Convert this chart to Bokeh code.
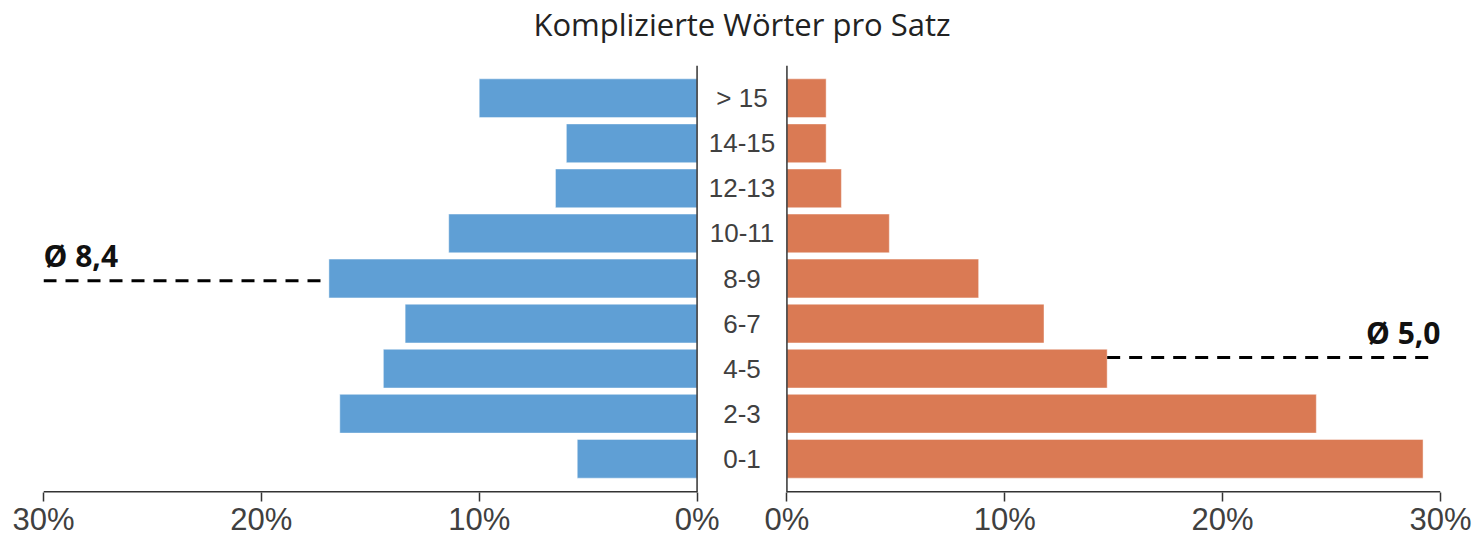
from bokeh.plotting import figure
from bokeh.models import LinearAxis, FixedTicker, Range1d, Span, ColumnDataSource, Title
from bokeh.core.properties import value
from bokeh.embed import file_html
from bokeh.resources import INLINE

# ---- data ----
categories = ["0-1", "2-3", "4-5", "6-7", "8-9", "10-11", "12-13", "14-15", "> 15"]
left_values = [5.5, 16.4, 14.4, 13.4, 16.9, 11.4, 6.5, 6.0, 10.0]     # % (blue, left)
right_values = [29.2, 24.3, 14.7, 11.8, 8.8, 4.7, 2.5, 1.8, 1.8]     # % (orange, right)
left_avg = 8.4
right_avg = 5.0
left_avg_label = "Ø 8,4"
right_avg_label = "Ø 5,0"
tick_values = [0, 10, 20, 30]
tick_labels = ["0%", "10%", "20%", "30%"]
title_text = "Komplizierte Wörter pro Satz"

# ---- layout constants ----
G = 4.125        # gap between panels (in % units)
XMAX = 30
LABEL_DY = 0.55  # avg label above its line (category units)
YMIN, YMAX = -0.748, 8.726

BLUE = "#5f9fd5"
ORANGE = "#da7a54"
TXT = "#404040"

ypos = list(range(len(categories)))

p = figure(width=1474, height=539, output_backend="svg", toolbar_location=None,
           x_range=Range1d(-XMAX, G + XMAX), y_range=Range1d(YMIN, YMAX),
           x_axis_location=None, y_axis_location=None,
           min_border_left=43, min_border_right=34, min_border_top=65, min_border_bottom=10)
p.outline_line_color = None
p.xgrid.visible = False
p.ygrid.visible = False
p.background_fill_color = "white"
p.border_fill_color = "white"

# spacer between title and plot frame, then the real title (further out)
spacer = Title(text=" ", text_font_size="1px", standoff=16)
p.add_layout(spacer, "above")
title = Title(text=title_text, align="center", vertical_align="top", standoff=0,
              text_font="Open Sans", text_font_size="31px", text_font_style="normal",
              text_color="#222222")
p.add_layout(title, "above")

src = ColumnDataSource(dict(
    y=ypos,
    lleft=[-v for v in left_values],
    lright=[0] * len(ypos),
    rleft=[G] * len(ypos),
    rright=[G + v for v in right_values],
    cat=categories,
    cx=[G / 2] * len(ypos),
))

p.hbar(y="y", left="lleft", right="lright", height=0.86, source=src,
       fill_color=BLUE, line_color="white", line_alpha=0.45, line_width=1)
p.hbar(y="y", left="rleft", right="rright", height=0.86, source=src,
       fill_color=ORANGE, line_color="white", line_alpha=0.45, line_width=1)

# category labels in the middle
p.text(x="cx", y="y", text="cat", source=src, text_align="center", text_baseline="middle",
       text_font=value("Liberation Sans"), text_font_size="26px", text_color=TXT)

# vertical panel lines
for loc in (0, G):
    p.add_layout(Span(location=loc, dimension="height", line_color="#333333", line_width=1.5))

# horizontal axis lines (clipped at frame bottom)
p.segment(x0=[-XMAX, G], y0=[YMIN, YMIN], x1=[0, G + XMAX], y1=[YMIN, YMIN],
          line_color="#333333", line_width=3)

# average lines
ly = (left_avg - 0.5) / 2
ry = (right_avg - 0.5) / 2
li = int(round(ly))
ri = int(round(ry))
p.segment(x0=[-XMAX], y0=[ly], x1=[-left_values[li] - 0.2], y1=[ly],
          line_color="black", line_width=3, line_dash="13 9")
p.segment(x0=[G + right_values[ri]], y0=[ry], x1=[G + XMAX - 0.45], y1=[ry],
          line_color="black", line_width=3, line_dash="13 9")
p.text(x=[-XMAX], y=[ly + LABEL_DY], text=[left_avg_label], text_align="left", text_baseline="middle",
       text_font=value("Open Sans"), text_font_size="30px",
       text_font_style="bold", text_color="#111111")
p.text(x=[G + XMAX], y=[ry + LABEL_DY], text=[right_avg_label], text_align="right",
       text_baseline="middle", text_font=value("Open Sans"), text_font_size="30px",
       text_font_style="bold", text_color="#111111")

# bottom axis with ticks for both panels
ticks = [-t for t in tick_values] + [G + t for t in tick_values]
overrides = {}
for t, lab in zip(tick_values, tick_labels):
    overrides[-t if t != 0 else 0] = lab
    overrides[G + t] = lab
ax = LinearAxis(ticker=FixedTicker(ticks=ticks), major_label_overrides=overrides)
ax.axis_line_color = None
ax.major_tick_line_color = "#333333"
ax.major_tick_line_width = 1.5
ax.major_tick_in = 0
ax.major_tick_out = 9
ax.minor_tick_line_color = None
ax.major_label_standoff = 0
ax.major_label_text_font = "Liberation Sans"
ax.major_label_text_font_size = "31px"
ax.major_label_text_color = TXT
p.add_layout(ax, "below")

open("out.html", "w").write(file_html(p, INLINE))
